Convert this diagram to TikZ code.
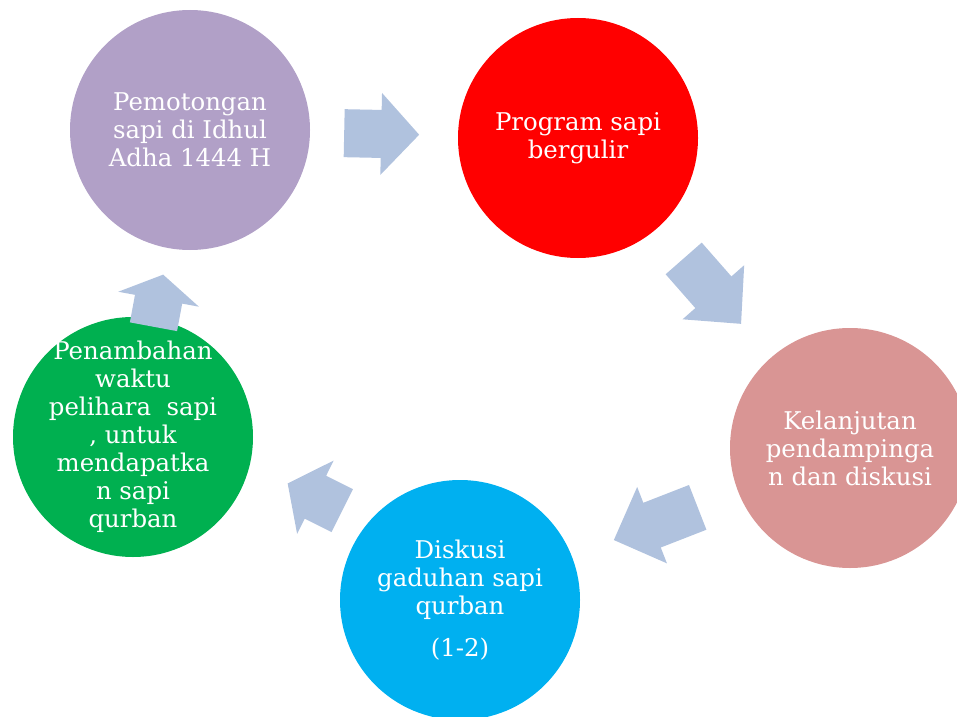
\documentclass[tikz,border=0pt]{standalone}
\usepackage{fontspec}
\setmainfont{DejaVu Serif}
\usepackage{tikz}
\usetikzlibrary{positioning,calc}
\definecolor{cPem}{HTML}{B1A0C7}
\definecolor{cProg}{HTML}{FF0000}
\definecolor{cLanj}{HTML}{D99594}
\definecolor{cDisk}{HTML}{00B0F0}
\definecolor{cTamb}{HTML}{00B050}
\definecolor{cArr}{HTML}{B0C2DE}

\begin{document}
\begin{tikzpicture}[x=0.75pt,y=-0.75pt,
  every node/.style={font=\fontsize{18.3}{21}\selectfont},
  stage/.style={circle,minimum size=180pt,inner sep=-15pt,text=white,align=center}]
  \useasboundingbox (0,0) rectangle (957,717);
  \clip (0,0) rectangle (957,717);
  \node[stage,fill=cPem] (pem) at (190,130) {Pemotongan\\sapi di Idhul\\Adha 1444 H};
  \node[stage,fill=cProg] (prog) at (578,138) {Program sapi\\bergulir};
  \node[stage,fill=cLanj] (lanj) at (850,448) {Kelanjutan\\pendampinga\\n dan diskusi};
  \node[stage,fill=cDisk] (disk) at (460,600) {Diskusi\\gaduhan sapi\\qurban\\[10.5pt](1-2)};
  \node[stage,fill=cTamb] (tamb) at (133,437) {Penambahan\\waktu\\pelihara~~sapi\\, untuk\\mendapatka\\n sapi\\qurban};
  % block arrows between the stages
  \foreach \a/\b/\t/\off/\len/\hd in {pem/prog/0.494/0pt/75/38, prog/lanj/0.494/0pt/87/42,
      lanj/disk/0.498/0pt/90/41, disk/tamb/0.481/20.6pt/61/31, tamb/pem/0.444/0pt/53/25}{
    \path let \p1=($(\b)-(\a)$), \n1={atan2(\y1,\x1)} in \pgfextra{\xdef\ang{\n1}};
    \fill[cArr,shift={($(\a)!\t!(\b)!\off!270:(\b)$)},rotate=\ang]
      ({-\len/2},-24) -- ({\len/2-\hd},-24) -- ({\len/2-\hd},-41) -- ({\len/2},0)
      -- ({\len/2-\hd},41) -- ({\len/2-\hd},24) -- ({-\len/2},24) -- cycle;}
\end{tikzpicture}
\end{document}
